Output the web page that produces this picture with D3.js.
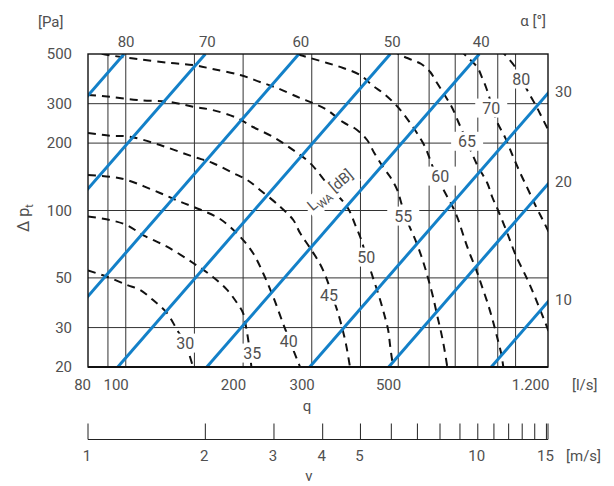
<!DOCTYPE html>
<html>
<head>
<meta charset="utf-8">
<script src="https://cdn.jsdelivr.net/npm/d3@7"></script>
<style>
  body { margin: 0; background: #fff; }
  svg text { font-family: Roboto, "Noto Sans", sans-serif; fill: #505050; font-size: 15px; }
</style>
</head>
<body>
<svg id="chart" width="614" height="486"></svg>
<script>
// blade angle alpha [deg] and the flow q [l/s] where its line reaches 500 Pa
const angles = [80, 70, 60, 50, 40, 30, 20, 10];
const qAt500 = [99, 160, 278, 477, 807, 1482, 2363, 4330];

// ticks and grid
const pTicks = [20, 30, 50, 100, 200, 300, 500];
const pGrid = [30, 50, 100, 200, 300];
const qGrid = [90, 100, 150, 200, 300, 400, 500, 600, 700, 800, 900, 1000];
const qTicks = [80, 100, 200, 300, 500, 1200];
const vTicks = [1, 2, 3, 4, 5, 6, 7, 8, 9, 10, 11, 12, 13, 14, 15];
const vLabels = [1, 2, 3, 4, 5, 10, 15];

// sound power level curves L_WA [dB], points [q l/s, dp Pa]
const lwa30 = [[80,54],[89.5,50.6],[100.7,46.5],[108.8,44.2],[117.5,39.8],[127.6,34.8],[135.4,29.3],[141.9,25.6],[148.8,20]];
const lwa35 = [[80,94],[91,90.7],[100.7,86],[110.7,77.7],[127.6,68.9],[148.8,58.3],[167,50.6],[182,44.2],[193,38.6],[200,34.8],[203.5,30.2],[207,25.1],[210,20]];
const lwa40 = [[80,144],[91,141.6],[100.7,136.8],[122.4,119.7],[137.8,109.5],[155,101],[174.6,91.6],[196.5,76.4],[212,64.6],[225,52.6],[239,41.1],[253,31.4],[264,25.9],[280,20]];
const lwa45 = [[80,222],[91,215.8],[102.5,213.6],[122.4,196],[148.8,174],[167,163],[188.5,147],[205,136.8],[221,123.5],[249,104],[269,90.7],[280,79.3],[297,68],[315,57.7],[328.5,48.9],[338,41.9],[348.5,35.9],[359,29.9],[367.5,25.1],[376,20]];
const lwa50 = [[80,328],[91,322],[107,311.5],[130,305],[148.8,290.8],[167,281],[193,259],[212,236],[239,213],[269,186],[297,163],[334,127],[370,103.7],[388,86],[402,73.8],[414,62],[431,49.9],[447,41.1],[460,34.5],[471,29.3],[477,24.6],[485,20]];
const lwa55 = [[80,516],[90,495],[107,475],[130,456],[148.8,446.5],[167,428.5],[196.5,403],[221,375],[244.5,352.5],[280,318],[302,302],[328.5,281],[361,248],[392,229],[416,206.5],[434,180.6],[457,156.4],[477,141],[497,123.5],[509,108],[521,94.5],[536.5,83.5],[556,72.3],[573,62.6],[586,55.4],[600,47.9],[615,40.7],[629,34.1],[644.5,28.4],[656,24.3],[668,20]];
const lwa60 = [[256,521],[280,495],[297,480],[328.5,456],[361,433],[399,403],[431,360],[457,335],[485,305],[509,278],[536.5,246],[562.5,217.4],[586,192],[604,168],[626,142.6],[660,119.7],[692,102.6],[713,90.7],[734,77.7],[760,65.3],[793,54.2],[821,45.5],[851,37.8],[876,31.8],[903,25.9],[919,22.9],[930,20]];
const lwa65 = [[482,521],[506,495],[543,470],[573,451],[604,415.5],[629,371],[660,324.7],[688,287],[713,248.5],[730,226.5],[751,202.3],[797,159.7],[846,132.7],[871,114.9],[903,99.5],[952,79.3],[998,63.9],[1071,49.4],[1116,41.9],[1157,35.9],[1206,29.9],[1249,25.1]];
const lwa70 = [[721,521],[751,485],[797,437],[821,390.7],[841,352.5],[856,321],[871,287],[897,248],[941,211],[986,173.4],[1028,147],[1078,123.5],[1123,105.8],[1164,93.5],[1206,82.7],[1249,73.1]];
const lwa80 = [[913,521],[941,495],[998,437],[1034,386.7],[1071,345],[1103,314.8],[1136,287],[1170,259],[1206,233.6],[1249,206.5]];

const lwaCurves = [lwa30, lwa35, lwa40, lwa45, lwa50, lwa55, lwa60, lwa65, lwa70, lwa80];
const lwaLevels = [30, 35, 40, 45, 50, 55, 60, 65, 70, 80];
const lwaLabelAt = [[142,25.6],[211,23.1],[262,26.1],[332,41.9],[414,62],[515,94.5],[641,142.6],[751,204],[866,287],[1034,387]];
const lwaTitleAt = [334, 123.5];

const pl = 88, pr = 548, pt = 54, pb = 367;
const svg = d3.select("#chart");

const x = d3.scaleLog().domain([80, 1211]).range([pl, pr]);
const y = d3.scaleLog().domain([20, 500]).range([pb, pt]);
const xv = d3.scaleLog().domain([1, 15.14]).range([pl, pr]);
const fmt = d3.formatLocale({decimal: ",", thousands: ".", grouping: [3], currency: ["", ""]}).format(",");

svg.append("clipPath").attr("id", "plot")
  .append("rect").attr("x", pl).attr("y", pt)
  .attr("width", pr - pl).attr("height", pb - pt);

// grid
const grid = svg.append("g").attr("stroke", "#333").attr("stroke-width", 1);
grid.selectAll(".vg").data(qGrid).join("line")
  .attr("x1", d => x(d)).attr("x2", d => x(d))
  .attr("y1", pt).attr("y2", pb);
grid.selectAll(".hg").data(pGrid).join("line")
  .attr("y1", d => y(d)).attr("y2", d => y(d))
  .attr("x1", pl).attr("x2", pr);

const plot = svg.append("g").attr("clip-path", "url(#plot)");

// sound level curves
const curveLine = d3.line()
  .x(d => x(d[0])).y(d => y(d[1]))
  .curve(d3.curveCatmullRom.alpha(0.5));
const straight = d3.line().x(d => x(d[0])).y(d => y(d[1]));

plot.selectAll(".lwa").data(lwaCurves).join("path")
  .attr("d", curveLine)
  .attr("fill", "none")
  .attr("stroke", "#111")
  .attr("stroke-width", 2)
  .attr("stroke-dasharray", "8,6");

// blade angle lines, dp ~ q^2
plot.selectAll(".alpha").data(qAt500).join("path")
  .attr("d", q => straight([[q * 0.2, 20], [q, 500]]))
  .attr("fill", "none")
  .attr("stroke", "#1380c8")
  .attr("stroke-width", 3);

// frame
svg.append("rect")
  .attr("x", pl).attr("y", pt)
  .attr("width", pr - pl).attr("height", pb - pt)
  .attr("fill", "none").attr("stroke", "#111").attr("stroke-width", 1.4);
svg.append("line")
  .attr("x1", pl).attr("x2", pr).attr("y1", pb).attr("y2", pb)
  .attr("stroke", "#111").attr("stroke-width", 2.2);

// labels with white box
function boxLabel(g, px, py, txt) {
  const t = g.append("text").attr("x", px).attr("y", py)
    .attr("dy", "0.35em").attr("text-anchor", "middle")
    .style("font-size", "16px").text(txt);
  const b = t.node().getBBox();
  g.insert("rect", "text")
    .attr("x", b.x - 7).attr("y", b.y)
    .attr("width", b.width + 14).attr("height", b.height)
    .attr("fill", "#fff");
}
const labels = svg.append("g");
lwaLevels.forEach((lv, i) => {
  const g = labels.append("g");
  boxLabel(g, x(lwaLabelAt[i][0]), y(lwaLabelAt[i][1]), lv);
});

// L_WA [dB] title along the label diagonal
const tg = svg.append("g")
  .attr("transform", `translate(${x(lwaTitleAt[0])},${y(lwaTitleAt[1])}) rotate(-40)`);
const tt = tg.append("text").attr("text-anchor", "middle").attr("dy", "0.35em")
  .style("font-size", "15px");
tt.append("tspan").text("L");
tt.append("tspan").attr("dy", "4").style("font-size", "11px").text("WA");
tt.append("tspan").attr("dy", "-4").text(" [dB]");
const tb = tt.node().getBBox();
tg.insert("rect", "text").attr("x", tb.x - 3).attr("y", tb.y)
  .attr("width", tb.width + 6).attr("height", tb.height).attr("fill", "#fff");

// alpha labels: top for the steep ones, right side for the rest
angles.forEach((a, i) => {
  const q = qAt500[i];
  if (q <= 1211) {
    svg.append("text").attr("x", x(q) + 2).attr("y", 46.5)
      .attr("text-anchor", "middle").text(a);
  } else {
    const pEdge = 500 * Math.pow(1211 / q, 2);
    svg.append("text").attr("x", pr + 7).attr("y", y(pEdge) - 2)
      .attr("dy", "0.35em").text(a);
  }
});

// y axis
const yAxis = d3.axisLeft(y).tickValues(pTicks).tickSize(0).tickPadding(16)
  .tickFormat(d3.format("d"));
svg.append("g").attr("transform", `translate(${pl},0)`).call(yAxis)
  .call(g => g.select(".domain").remove())
  .selectAll("text").attr("fill", "#505050")
  .style("font-size", "15px").style("font-family", "Roboto, sans-serif");

svg.append("text").attr("x", 38).attr("y", 27).text("[Pa]");
svg.append("text").attr("x", 546).attr("y", 26).attr("text-anchor", "end").text("α [°]");

const yt = svg.append("text")
  .attr("transform", "translate(29,218) rotate(-90)")
  .attr("text-anchor", "middle").style("font-size", "16px");
yt.append("tspan").text("Δ p");
yt.append("tspan").attr("dy", "4").style("font-size", "11px").text("t");

// q labels
svg.selectAll(".ql").data(qTicks).join("text")
  .attr("x", d => x(d) + 3).attr("y", 390)
  .attr("text-anchor", "end").text(d => fmt(d));
svg.append("text").attr("x", 572).attr("y", 390).text("[l/s]");
svg.append("text").attr("x", 307).attr("y", 411).attr("text-anchor", "middle").text("q");

// velocity scale
const vy = 439.5;
svg.append("line").attr("x1", pl).attr("x2", pr)
  .attr("y1", vy).attr("y2", vy).attr("stroke", "#222").attr("stroke-width", 1);
svg.selectAll(".vt").data(vTicks.concat([15.14])).join("line")
  .attr("x1", d => xv(d)).attr("x2", d => xv(d))
  .attr("y1", vy - 16).attr("y2", vy)
  .attr("stroke", "#222").attr("stroke-width", 1);
svg.selectAll(".vl").data(vLabels).join("text")
  .attr("x", d => xv(d) - 1).attr("y", 461)
  .attr("text-anchor", "middle").text(d => d);
svg.append("text").attr("x", 566).attr("y", 461).text("[m/s]");
svg.append("text").attr("x", 309).attr("y", 481).attr("text-anchor", "middle").text("v");
</script>
</body>
</html>
